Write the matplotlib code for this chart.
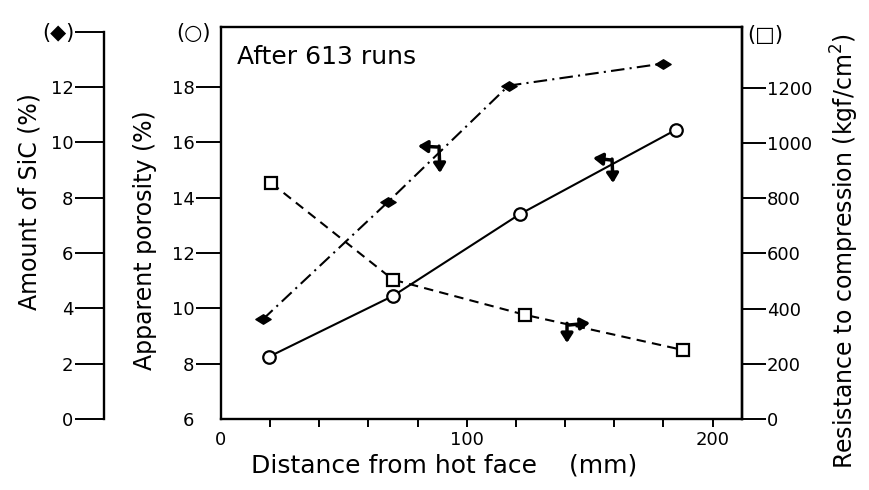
import matplotlib
matplotlib.use("Agg")
import matplotlib.pyplot as plt
import numpy as np
from matplotlib.path import Path

plt.rcParams['font.family'] = ['DejaVu Sans']

# ---- data ----
sic_x = [17, 68, 117, 180]
sic_y = [3.6, 7.85, 12.05, 12.85]

por_x = [19.5, 70, 121.5, 185]
por_y = [8.25, 10.45, 13.4, 16.45]

res_x = [20.5, 70, 123.5, 188]
res_y = [855, 505, 378, 250]

x_major = [0, 100, 200]
x_minor = [20, 40, 60, 80, 120, 140, 160, 180]
por_ticks = [6, 8, 10, 12, 14, 16, 18]
sic_ticks = [0, 2, 4, 6, 8, 10, 12, 14]
res_ticks = [0, 200, 400, 600, 800, 1000, 1200]

fig = plt.figure(figsize=(8.69, 4.9), dpi=100)
ax = fig.add_axes([0.2543, 0.1449, 0.5996, 0.8000])
ax2 = ax.twinx()
ax3 = ax.twinx()

lw_sp = 1.7
for s in ax.spines.values():
    s.set_linewidth(lw_sp)

ax.set_xlim(0, 212)
ax.set_ylim(6, 20.17)
ax2.set_ylim(0, 14.17)
ax3.set_ylim(0, 1421)

# porosity (circles, solid)
ax.plot(por_x, por_y, color='black', lw=1.5, marker='o', ms=9,
        mfc='white', mec='black', mew=1.6, zorder=5)

# SiC (diamonds, dash-dot)
diamond = Path([(-1, 0), (0, 0.62), (1, 0), (0, -0.62), (-1, 0)],
               [Path.MOVETO, Path.LINETO, Path.LINETO, Path.LINETO, Path.CLOSEPOLY])
ax2.plot(sic_x, sic_y, color='black', lw=1.5, dashes=(6.5, 2.5, 1, 2.5),
         marker=diamond, ms=11, mfc='black', mec='black', zorder=5)

# resistance (squares, dashed)
ax3.plot(res_x, res_y, color='black', lw=1.5, dashes=(4.5, 3), marker='s',
         ms=8, mfc='white', mec='black', mew=1.6, zorder=5)

# x axis
ax.set_xticks(x_major)
ax.set_xticklabels([str(v) for v in x_major])
ax.set_xticks(x_minor, minor=True)
ax.tick_params(axis='x', which='both', direction='out', length=6,
               width=1.4, labelsize=13, pad=3, top=False)
ax.xaxis.get_major_ticks()[0].tick1line.set_visible(False)

# porosity axis
ax.set_yticks(por_ticks)
ax.tick_params(axis='y', direction='out', length=18, width=1.4,
               labelsize=13, pad=1, right=False)
ax.yaxis.get_major_ticks()[0].tick1line.set_visible(False)

# SiC axis (far left)
ax2.yaxis.set_ticks_position('left')
ax2.spines['left'].set_position(('axes', -0.2246))
ax2.spines['left'].set_visible(True)
ax2.spines['left'].set_linewidth(lw_sp)
ax2.spines['left'].set_bounds(0, 14)
for k in ['right', 'top', 'bottom']:
    ax2.spines[k].set_visible(False)
ax2.set_yticks(sic_ticks)
ax2.set_yticklabels([str(v) if v < 14 else '' for v in sic_ticks])
ax2.tick_params(axis='y', direction='out', length=21, width=1.4,
                labelsize=13, pad=1)

# resistance axis (right)
for k in ['left', 'top', 'bottom']:
    ax3.spines[k].set_visible(False)
ax3.spines['right'].set_linewidth(lw_sp)
ax3.set_yticks(res_ticks)
ax3.tick_params(axis='y', direction='out', length=17, width=1.4,
                labelsize=13, pad=1)
ax3.yaxis.get_major_ticks()[0].tick1line.set_visible(False)

# labels
fig.text(0.0345, 0.588, 'Amount of SiC (%)', rotation=90, ha='center',
         va='center', fontsize=17)
fig.text(0.167, 0.51, 'Apparent porosity (%)', rotation=90, ha='center',
         va='center', fontsize=17)
fig.text(0.972, 0.488, r'Resistance to compression (kgf/cm$^2$)', rotation=90,
         ha='center', va='center', fontsize=17)
fig.text(0.511, 0.051, 'Distance from hot face    (mm)', ha='center',
         va='center', fontsize=18)
ax.text(0.03, 0.955, 'After 613 runs', transform=ax.transAxes, ha='left',
        va='top', fontsize=18)

# axis symbol keys
fig.text(0.0667, 0.9327, '(◆)', ha='center', va='center', fontsize=15)
fig.text(0.2221, 0.9327, '(○)', ha='center', va='center', fontsize=15)
fig.text(0.8803, 0.9286, '(□)', ha='center', va='center', fontsize=15)

# indicator arrows (axes fraction): (tail, head)
arrows = [
    ((0.4146, 0.6939), (0.378, 0.6964)),
    ((0.4184, 0.6960), (0.4203, 0.6276)),
    ((0.7486, 0.6607), (0.714, 0.6658)),
    ((0.7505, 0.6630), (0.7524, 0.602)),
    ((0.668, 0.2398), (0.7083, 0.2449)),
    ((0.6641, 0.2440), (0.6641, 0.1939)),
]
for tail, head in arrows:
    ax.annotate('', xy=head, xytext=tail, xycoords='axes fraction',
                textcoords='axes fraction',
                arrowprops=dict(arrowstyle='-|>,head_length=0.55,head_width=0.35',
                                color='black', lw=2.5, shrinkA=0, shrinkB=0))

fig.savefig('out.png', dpi=100)
